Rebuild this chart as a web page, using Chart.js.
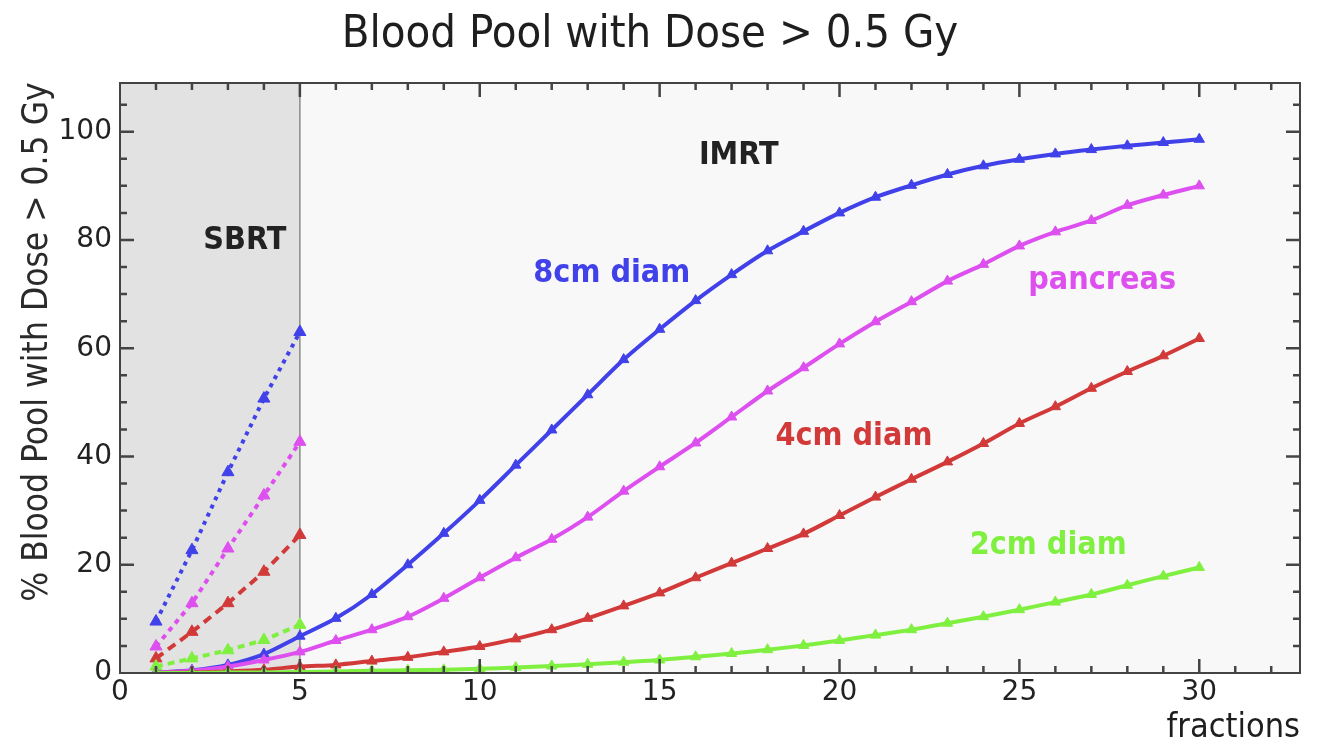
<!DOCTYPE html>
<html>
<head>
<meta charset="utf-8">
<script src="https://cdn.jsdelivr.net/npm/chart.js@4.4.0/dist/chart.umd.min.js"></script>
<style>
  html, body { margin: 0; padding: 0; background: #fff; }
  #wrap { width: 1320px; height: 749px; }
</style>
</head>
<body>
<div id="wrap"><canvas id="bloodChart"></canvas></div>
<script>
// Datos
const fractionsIMRT = [1,2,3,4,5,6,7,8,9,10,11,12,13,14,15,16,17,18,19,20,21,22,23,24,25,26,27,28,29,30];
const imrt8cm = [0.1,0.5,1.5,3.5,6.8,10.1,14.5,20.0,25.8,31.9,38.4,44.9,51.4,57.9,63.5,68.8,73.6,78.0,81.6,85.0,87.9,90.1,92.1,93.7,94.9,95.9,96.7,97.4,98.0,98.6];
const imrtPancreas = [0.1,0.4,1.2,2.4,3.9,6.0,8.0,10.4,13.8,17.6,21.3,24.7,28.8,33.6,38.1,42.5,47.3,52.1,56.4,60.8,64.9,68.6,72.4,75.5,78.9,81.5,83.6,86.4,88.3,90.0];
const imrt4cm = [0,0.1,0.3,0.6,1.2,1.5,2.2,2.9,3.9,4.9,6.3,8.0,10.1,12.4,14.8,17.6,20.3,23.0,25.7,29.1,32.5,35.8,39.0,42.4,46.1,49.2,52.6,55.7,58.6,61.8];
const imrt2cm = [0,0,0.1,0.1,0.2,0.3,0.4,0.5,0.6,0.8,1.0,1.3,1.6,2.0,2.4,3.0,3.6,4.3,5.1,6.0,7.0,8.0,9.2,10.4,11.7,13.1,14.5,16.2,17.9,19.5];

const fractionsSBRT = [1,2,3,4,5];
const sbrt8cm = [9.5,22.7,37.1,50.7,63.0];
const sbrtPancreas = [4.9,12.9,23.0,32.8,42.7];
const sbrt4cm = [2.7,7.6,12.9,18.7,25.5];
const sbrt2cm = [1.2,2.7,4.2,6.1,8.9];

const xTicks = [0,5,10,15,20,25,30];
const yTicks = [0,20,40,60,80,100];

const colors = { blue: '#4141ea', magenta: '#dd4fee', red: '#d23a3a', green: '#80f040' };
const condensed = '"DejaVu Sans Condensed", "Liberation Sans Narrow", "DejaVu Sans", sans-serif';

// Etiquetas de texto en coordenadas de datos
const notes = [
  { text: 'SBRT', x: 3.47, y: 79.9, color: '#222' },
  { text: 'IMRT', x: 17.2, y: 95.6, color: '#222' },
  { text: '8cm diam', x: 13.67, y: 73.8, color: colors.blue },
  { text: 'pancreas', x: 27.3, y: 72.5, color: colors.magenta },
  { text: '4cm diam', x: 20.4, y: 43.7, color: colors.red },
  { text: '2cm diam', x: 25.8, y: 23.6, color: colors.green }
];

function pts(xs, ys) { return xs.map((x, i) => ({ x: x, y: ys[i] })); }

function solid(data, color) {
  return { data: pts(fractionsIMRT, data), borderColor: color, backgroundColor: color, borderWidth: 4,
    pointStyle: 'triangle', pointRadius: 6, pointBorderWidth: 1, tension: 0.3, fill: false };
}
function dashed(data, color, dash) {
  return { data: pts(fractionsSBRT, data), borderColor: color, backgroundColor: color, borderWidth: 4,
    borderDash: dash, pointStyle: 'triangle', pointRadius: 7, pointBorderWidth: 1, tension: 0, fill: false };
}

const framePlugin = {
  id: 'frame',
  beforeDatasetsDraw(chart) {
    const { ctx, chartArea: a, scales: { x, y } } = chart;
    ctx.save();
    ctx.fillStyle = '#f8f8f8';
    ctx.fillRect(a.left, a.top, a.right - a.left, a.bottom - a.top);
    const x5 = x.getPixelForValue(5);
    ctx.fillStyle = '#e2e2e2';
    ctx.fillRect(a.left, a.top, x5 - a.left, a.bottom - a.top);
    ctx.strokeStyle = '#8a8a8a';
    ctx.lineWidth = 1.5;
    ctx.beginPath(); ctx.moveTo(x5, a.top); ctx.lineTo(x5, a.bottom); ctx.stroke();
    ctx.restore();
  },
  afterDatasetsDraw(chart) {
    const { ctx, chartArea: a, scales: { x, y } } = chart;
    ctx.save();
    ctx.strokeStyle = '#444';
    ctx.lineWidth = 2;
    ctx.strokeRect(a.left, a.top, a.right - a.left, a.bottom - a.top);
    ctx.lineWidth = 2.5;
    ctx.beginPath();
    for (let v = 1; v <= 32; v++) {
      const px = x.getPixelForValue(v);
      const len = v % 5 === 0 ? 14 : 7;
      ctx.moveTo(px, a.bottom); ctx.lineTo(px, a.bottom - len);
      ctx.moveTo(px, a.top); ctx.lineTo(px, a.top + len);
    }
    for (let v = 5; v <= 105; v += 5) {
      const py = y.getPixelForValue(v);
      const len = v % 20 === 0 ? 14 : 7;
      ctx.moveTo(a.left, py); ctx.lineTo(a.left + len, py);
      ctx.moveTo(a.right, py); ctx.lineTo(a.right - len, py);
    }
    ctx.stroke();
    ctx.restore();
  },
  afterDraw(chart) {
    const { ctx, scales: { x, y } } = chart;
    ctx.save();
    ctx.textAlign = 'center';
    ctx.textBaseline = 'middle';
    ctx.font = 'bold 32px ' + condensed;
    notes.forEach(n => {
      ctx.fillStyle = n.color;
      ctx.fillText(n.text, x.getPixelForValue(n.x), y.getPixelForValue(n.y));
    });
    // título del eje Y
    ctx.translate(38, 342);
    ctx.rotate(-Math.PI / 2);
    ctx.fillStyle = '#2a2a2a';
    ctx.font = '35px ' + condensed;
    ctx.fillText('% Blood Pool with Dose > 0.5 Gy', 0, 0);
    ctx.restore();
  }
};

new Chart(document.getElementById('bloodChart'), {
  type: 'line',
  data: {
    datasets: [
      solid(imrt2cm, colors.green),
      solid(imrt4cm, colors.red),
      solid(imrtPancreas, colors.magenta),
      solid(imrt8cm, colors.blue),
      dashed(sbrt2cm, colors.green, [7, 5]),
      dashed(sbrt4cm, colors.red, [9, 6]),
      dashed(sbrtPancreas, colors.magenta, [5, 5]),
      dashed(sbrt8cm, colors.blue, [4, 5])
    ]
  },
  options: {
    responsive: true,
    maintainAspectRatio: false,
    animation: false,
    layout: { padding: { left: 0, right: 20, top: 0, bottom: 0 } },
    plugins: {
      legend: { display: false },
      tooltip: { enabled: false },
      title: {
        display: true,
        text: 'Blood Pool with Dose > 0.5 Gy',
        color: '#1e1e1e',
        font: { family: condensed, size: 45, weight: 'normal' },
        padding: { top: 8, bottom: 21 }
      }
    },
    scales: {
      x: {
        type: 'linear', min: 0, max: 32.8,
        afterFit(scale) { scale.height = 76; },
        afterBuildTicks(scale) { scale.ticks = xTicks.map(v => ({ value: v })); },
        grid: { display: false, drawTicks: false },
        border: { display: false },
        ticks: { color: '#222', padding: 3, maxRotation: 0, font: { family: '"DejaVu Sans", sans-serif', size: 28 } },
        title: { display: true, text: 'fractions', align: 'end', color: '#1e1e1e',
          font: { family: condensed, size: 34 }, padding: { top: 0, bottom: 0 } }
      },
      y: {
        min: 0, max: 109,
        afterFit(scale) { scale.width = 120; },
        afterBuildTicks(scale) { scale.ticks = yTicks.map(v => ({ value: v })); },
        grid: { display: false, drawTicks: false },
        border: { display: false },
        ticks: { color: '#222', padding: 8, font: { family: '"DejaVu Sans", sans-serif', size: 28 } }
      }
    }
  },
  plugins: [framePlugin]
});
</script>
</body>
</html>
